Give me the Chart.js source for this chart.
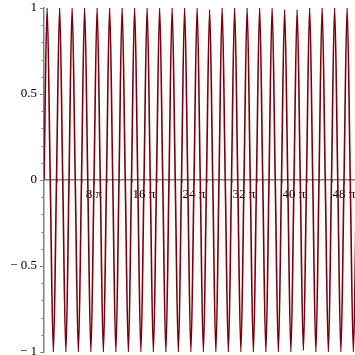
<!DOCTYPE html>
<html>
<head>
<meta charset="utf-8">
<script src="https://cdn.jsdelivr.net/npm/chart.js@4.4.1/dist/chart.umd.min.js"></script>
<style>
  html, body { margin: 0; padding: 0; background: #fff; }
</style>
</head>
<body>
<canvas id="chart" width="355" height="355"></canvas>
<script>
// x positions in multiples of pi (quarter periods)
const xPi = [
  0, 0.5, 1, 1.5, 2, 2.5, 3, 3.5, 4, 4.5, 5, 5.5, 6, 6.5, 7, 7.5, 8, 8.5, 9, 9.5,
  10, 10.5, 11, 11.5, 12, 12.5, 13, 13.5, 14, 14.5, 15, 15.5, 16, 16.5, 17, 17.5, 18, 18.5, 19, 19.5,
  20, 20.5, 21, 21.5, 22, 22.5, 23, 23.5, 24, 24.5, 25, 25.5, 26, 26.5, 27, 27.5, 28, 28.5, 29, 29.5,
  30, 30.5, 31, 31.5, 32, 32.5, 33, 33.5, 34, 34.5, 35, 35.5, 36, 36.5, 37, 37.5, 38, 38.5, 39, 39.5,
  40, 40.5, 41, 41.5, 42, 42.5, 43, 43.5, 44, 44.5, 45, 45.5, 46, 46.5, 47, 47.5, 48, 48.5, 49, 49.5, 50
];
// curve values at those points
const yVal = [
  0, 1, 0, -1, 0, 1, 0, -1, 0, 1, 0, -1, 0, 1, 0, -1, 0, 1, 0, -1,
  0, 1, 0, -1, 0, 1, 0, -1, 0, 1, 0, -1, 0, 1, 0, -1, 0, 1, 0, -1,
  0, 1, 0, -1, 0, 1, 0, -1, 0, 1, 0, -1, 0, 0.99, 0, -1, 0, 1, 0, -1,
  0, 1, 0, -1, 0, 1, 0, -1, 0, 1, 0, -1, 0, 1, 0, -1, 0, 0.99, 0, -1,
  0, 0.99, 0, -0.99, 0, 1, 0, -1, 0, 1, 0, -1, 0, 1, 0, -1, 0, 1, 0, -1, 0
];
const xTickValues = [8, 16, 24, 32, 40, 48];
const yTickValues = [-1, -0.5, 0, 0.5, 1];

const axisColor = '#808080';
const lineColor = '#78000e';
const tickFont = { family: "'Liberation Serif', 'Times New Roman', serif", size: 13 };

// short minor ticks, Maple style
const minorTicks = {
  id: 'minorTicks',
  beforeDatasetsDraw(chart) {
    const ctx = chart.ctx;
    const xs = chart.scales.x, ys = chart.scales.y;
    const x0 = xs.getPixelForValue(0);
    const y0 = ys.getPixelForValue(0);
    ctx.save();
    ctx.strokeStyle = axisColor;
    ctx.lineWidth = 1;
    for (let i = -10; i <= 10; i++) {
      if (i % 5 === 0) continue;
      const py = Math.round(ys.getPixelForValue(i / 10)) + 0.5;
      ctx.beginPath();
      ctx.moveTo(x0 - 2.5, py);
      ctx.lineTo(x0, py);
      ctx.stroke();
    }
    for (let v = 2; v < 50; v += 2) {
      if (v % 8 === 0) continue;
      const px = Math.round(xs.getPixelForValue(v)) + 0.5;
      ctx.beginPath();
      ctx.moveTo(px, y0);
      ctx.lineTo(px, y0 + 2.5);
      ctx.stroke();
    }
    ctx.restore();
  }
};

// no extra room for the end labels, the plot box is fixed
function noPad(scale) {
  scale.paddingTop = 0;
  scale.paddingBottom = 0;
  scale.paddingLeft = 0;
  scale.paddingRight = 0;
}

const ctx = document.getElementById('chart').getContext('2d');
new Chart(ctx, {
  type: 'line',
  data: {
    datasets: [{
      data: xPi.map((x, i) => ({ x: x, y: yVal[i] })),
      borderColor: lineColor,
      borderWidth: 1.6,
      pointRadius: 0,
      fill: false,
      cubicInterpolationMode: 'monotone'
    }]
  },
  options: {
    responsive: false,
    animation: false,
    devicePixelRatio: 1,
    layout: { padding: { top: 8, bottom: 3, right: 0, left: 0 } },
    plugins: { legend: { display: false }, tooltip: { enabled: false } },
    scales: {
      x: {
        type: 'linear',
        min: 0,
        max: 49.76,
        position: { y: 0 },
        afterBuildTicks: (scale) => { scale.ticks = xTickValues.map(v => ({ value: v })); },
        afterFit: noPad,
        grid: { drawOnChartArea: false, drawTicks: true, tickLength: 4, color: axisColor, lineWidth: 1 },
        border: { display: true, color: axisColor, width: 1.5 },
        ticks: {
          color: '#000',
          font: tickFont,
          padding: 3,
          maxRotation: 0,
          autoSkip: false,
          callback: (v) => v + ' \u03c0'
        }
      },
      y: {
        type: 'linear',
        min: -1,
        max: 1,
        position: 'left',
        afterFit: (scale) => { scale.width = 44; noPad(scale); },
        afterBuildTicks: (scale) => { scale.ticks = yTickValues.map(v => ({ value: v })); },
        grid: { drawOnChartArea: false, drawTicks: true, tickLength: 4, color: axisColor, lineWidth: 1 },
        border: { display: true, color: axisColor, width: 1.5 },
        ticks: {
          color: '#000',
          font: tickFont,
          padding: 3,
          autoSkip: false,
          callback: (v) => v < 0 ? '\u2212 ' + Math.abs(v) : String(v)
        }
      }
    }
  },
  plugins: [minorTicks]
});
</script>
</body>
</html>
